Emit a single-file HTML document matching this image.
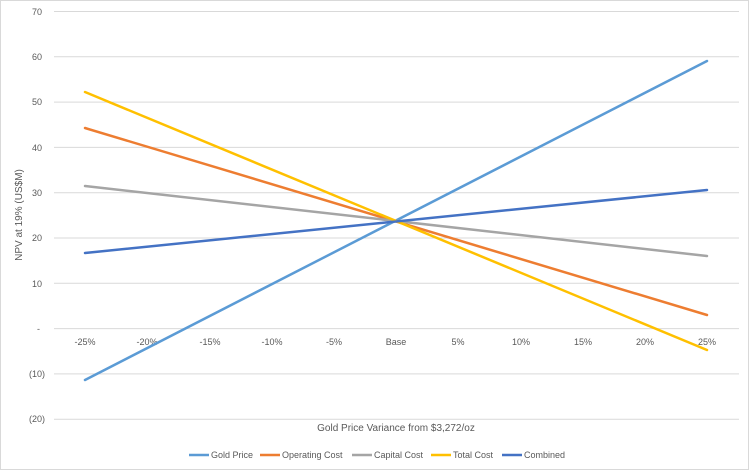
<!DOCTYPE html>
<html><head><meta charset="utf-8"><style>
body{margin:0;background:#fff}
svg{display:block;font-family:"Liberation Sans",sans-serif}
</style></head><body>
<svg width="750" height="471" viewBox="0 0 750 471" xmlns="http://www.w3.org/2000/svg">
<rect x="0.5" y="0.5" width="748" height="469" fill="#fff" stroke="#d9d9d9"/>
<g stroke="#d9d9d9" stroke-width="1">
<line x1="54" x2="739" y1="11.5" y2="11.5"/>
<line x1="54" x2="739" y1="56.8" y2="56.8"/>
<line x1="54" x2="739" y1="102.1" y2="102.1"/>
<line x1="54" x2="739" y1="147.4" y2="147.4"/>
<line x1="54" x2="739" y1="192.7" y2="192.7"/>
<line x1="54" x2="739" y1="238" y2="238"/>
<line x1="54" x2="739" y1="283.3" y2="283.3"/>
<line x1="54" x2="739" y1="328.6" y2="328.6"/>
<line x1="54" x2="739" y1="373.9" y2="373.9"/>
<line x1="54" x2="739" y1="419.2" y2="419.2"/>
</g>
<g font-size="9" fill="#595959" text-anchor="end">
<text x="42" y="15">70</text><text x="42" y="60">60</text><text x="42" y="105">50</text>
<text x="42" y="151">40</text><text x="42" y="196">30</text><text x="42" y="241">20</text>
<text x="42" y="287">10</text><text x="40" y="332">-</text><text x="45" y="377">(10)</text>
<text x="45" y="422">(20)</text>
</g>
<g font-size="9" fill="#595959" text-anchor="middle">
<text x="85" y="345">-25%</text><text x="147" y="345">-20%</text><text x="210" y="345">-15%</text>
<text x="272" y="345">-10%</text><text x="334" y="345">-5%</text><text x="396" y="345">Base</text>
<text x="458" y="345">5%</text><text x="521" y="345">10%</text><text x="583" y="345">15%</text>
<text x="645" y="345">20%</text><text x="707" y="345">25%</text>
</g>
<text x="396" y="431" font-size="10" fill="#595959" text-anchor="middle">Gold Price Variance from $3,272/oz</text>
<text transform="translate(22,215) rotate(-90)" font-size="10" fill="#595959" text-anchor="middle">NPV at 19% (US$M)</text>
<g fill="none" stroke-width="2.5" stroke-linecap="round">
<line x1="85" y1="380" x2="707" y2="61" stroke="#5b9bd5"/>
<line x1="85" y1="128" x2="707" y2="315" stroke="#ed7d31"/>
<line x1="85" y1="186" x2="707" y2="256" stroke="#a5a5a5"/>
<line x1="85" y1="92" x2="707" y2="350" stroke="#ffc000"/>
<line x1="85" y1="253" x2="707" y2="190" stroke="#4472c4"/>
</g>
<g font-size="9" fill="#595959">
<line x1="189" y1="455" x2="209" y2="455" stroke="#5b9bd5" stroke-width="2.5"/><text x="211" y="458">Gold Price</text>
<line x1="260" y1="455" x2="280" y2="455" stroke="#ed7d31" stroke-width="2.5"/><text x="282" y="458">Operating Cost</text>
<line x1="352" y1="455" x2="372" y2="455" stroke="#a5a5a5" stroke-width="2.5"/><text x="374" y="458">Capital Cost</text>
<line x1="431" y1="455" x2="451" y2="455" stroke="#ffc000" stroke-width="2.5"/><text x="453" y="458">Total Cost</text>
<line x1="502" y1="455" x2="522" y2="455" stroke="#4472c4" stroke-width="2.5"/><text x="524" y="458">Combined</text>
</g>
</svg>
</body></html>
